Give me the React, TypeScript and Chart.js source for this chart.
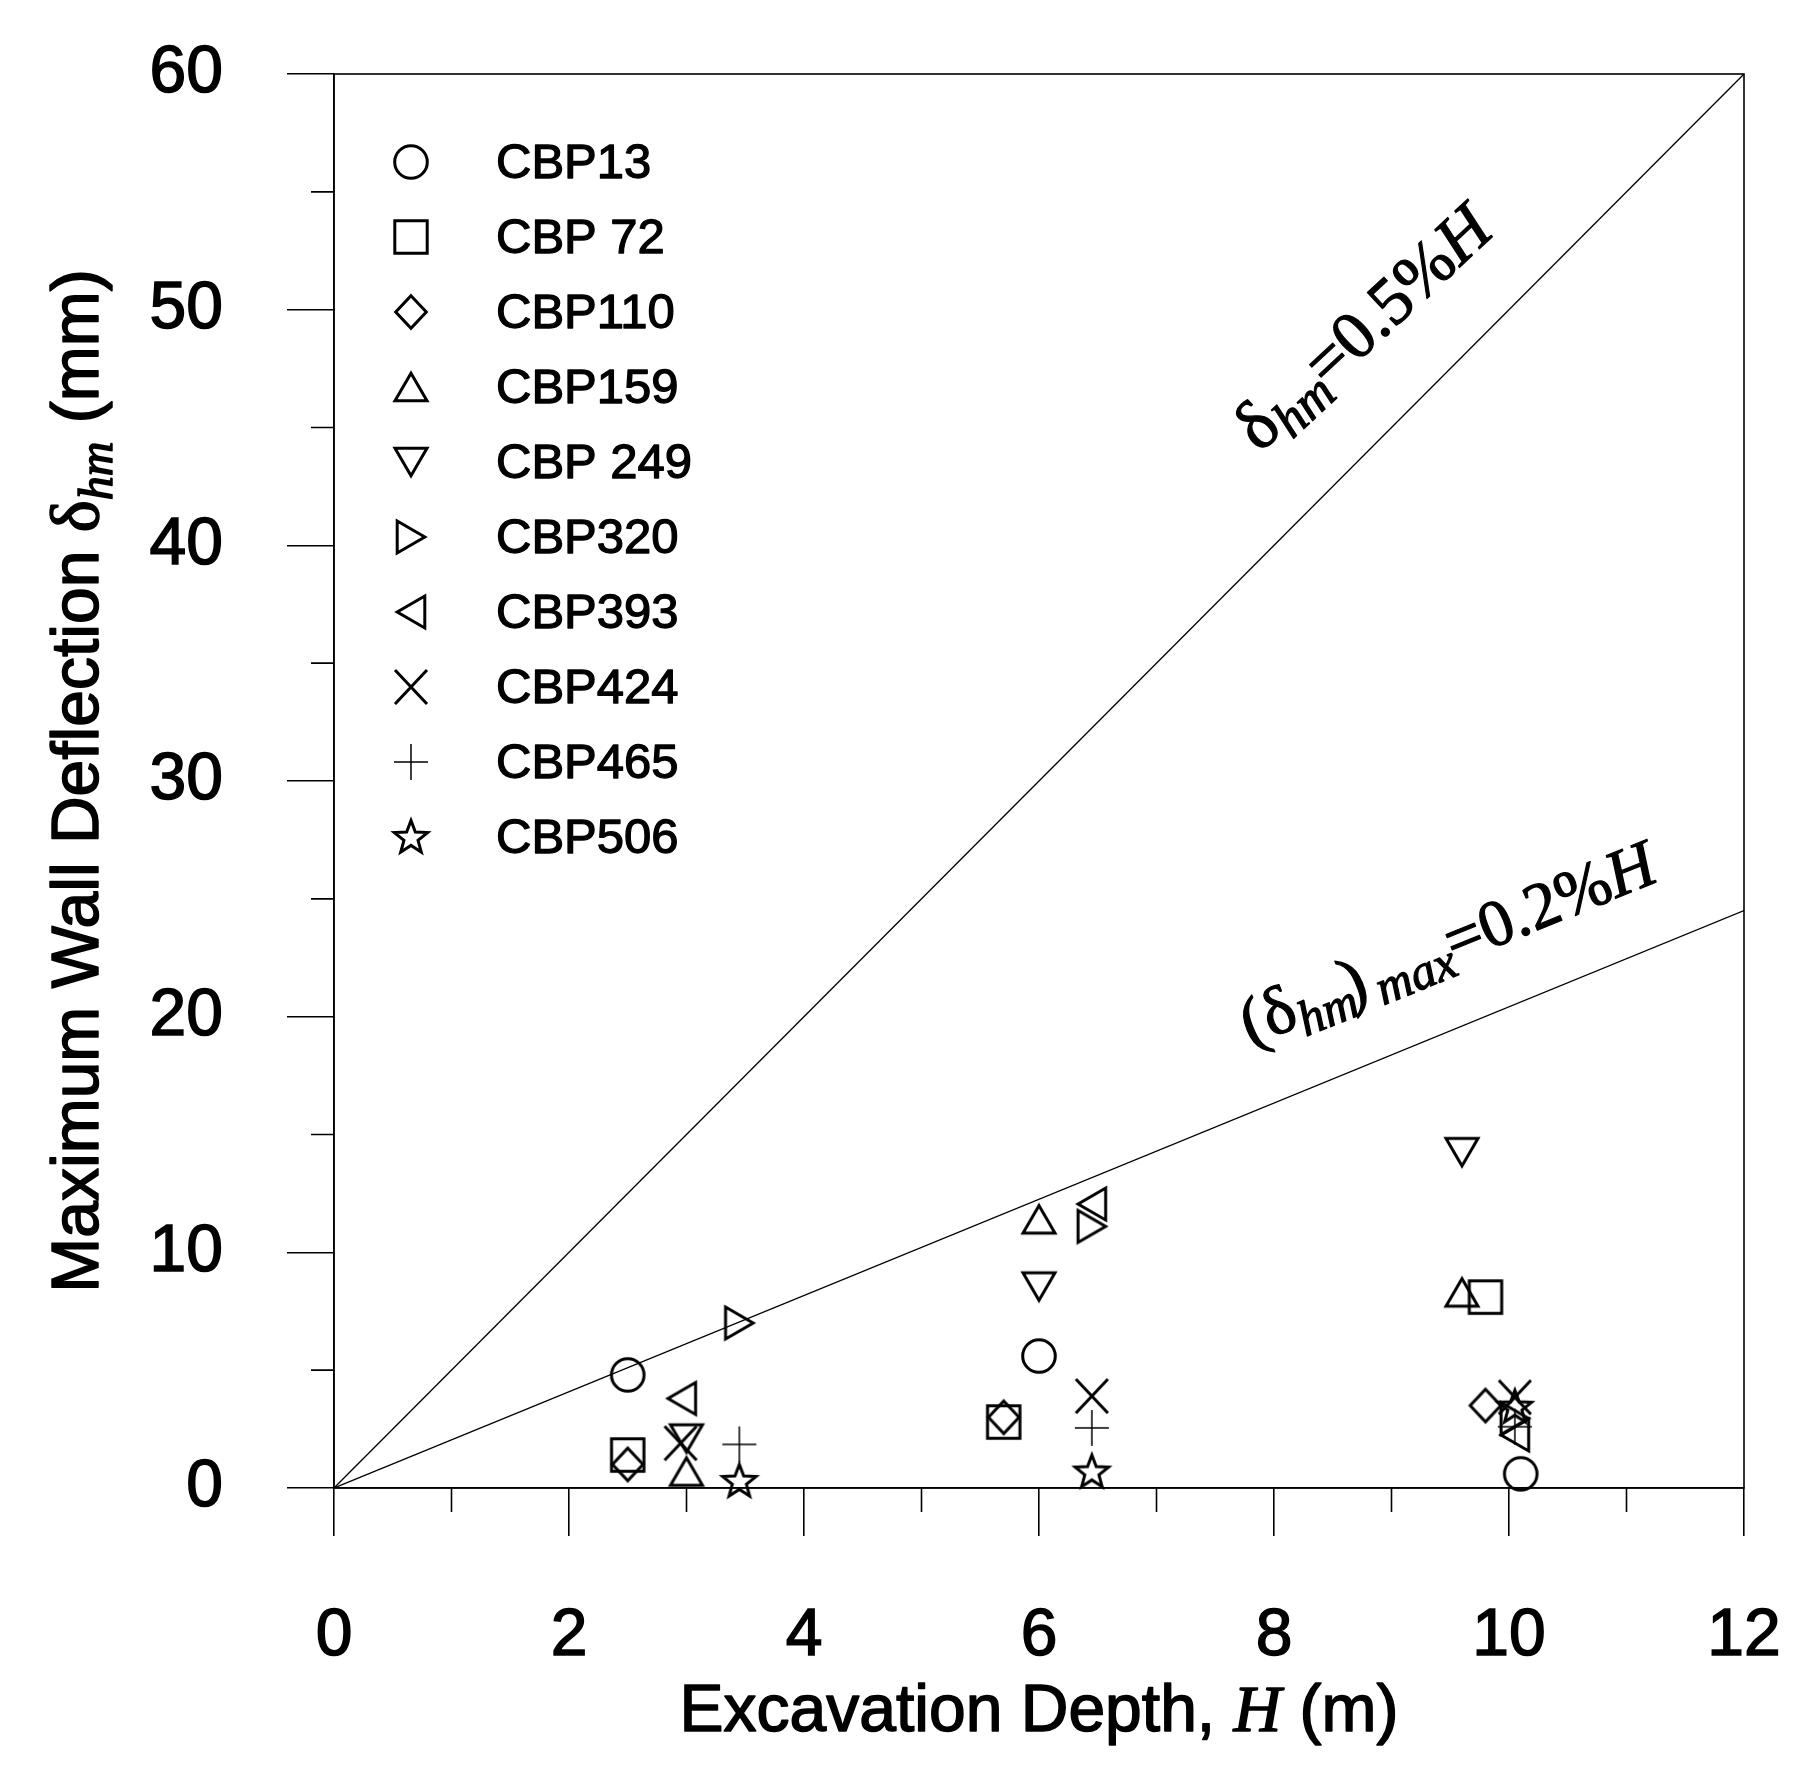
import { useEffect, useRef } from 'react';
import { Chart, registerables } from 'chart.js';

Chart.register(...registerables);

const SANS = '"Liberation Sans", Arial, sans-serif';
const SERIF = '"Liberation Serif", "Times New Roman", serif';

// legend names and marker kinds, same order
const SERIES = ['CBP13', 'CBP 72', 'CBP110', 'CBP159', 'CBP 249', 'CBP320', 'CBP393', 'CBP424', 'CBP465', 'CBP506'];
const MARKERS = ['circle', 'square', 'diamond', 'triUp', 'triDown', 'triRight', 'triLeft', 'cross', 'plus', 'star'];

// excavation depth H (m) / max wall deflection (mm), per pile
const CBP13_H = [2.5, 6.0, 10.1];
const CBP13_D = [4.8, 5.6, 0.6];
const CBP72_H = [2.5, 5.7, 9.8];
const CBP72_D = [1.4, 2.8, 8.1];
const CBP110_H = [2.5, 5.7, 9.8];
const CBP110_D = [1.0, 3.0, 3.5];
const CBP159_H = [3.0, 6.0, 9.6];
const CBP159_D = [0.7, 11.4, 8.3];
const CBP249_H = [3.0, 6.0, 9.6];
const CBP249_D = [2.1, 8.55, 14.25];
const CBP320_H = [3.45, 6.45, 10.05];
const CBP320_D = [7.0, 11.1, 2.95];
const CBP393_H = [2.96, 6.45, 10.05];
const CBP393_D = [3.8, 12.05, 2.25];
const CBP424_H = [2.95, 6.45, 10.05];
const CBP424_D = [1.9, 3.9, 3.85];
const CBP465_H = [3.45, 6.45, 10.05];
const CBP465_D = [1.85, 2.55, 2.6];
const CBP506_H = [3.45, 6.45, 10.05];
const CBP506_D = [0.3, 0.7, 3.45];

const ALL_H = [CBP13_H, CBP72_H, CBP110_H, CBP159_H, CBP249_H, CBP320_H, CBP393_H, CBP424_H, CBP465_H, CBP506_H];
const ALL_D = [CBP13_D, CBP72_D, CBP110_D, CBP159_D, CBP249_D, CBP320_D, CBP393_D, CBP424_D, CBP465_D, CBP506_D];

// reference lines
const LINE_H = [0, 12];
const LINE_05 = [0, 60];
const LINE_02 = [0, 24.5];

const X_MINOR = [1, 3, 5, 7, 9, 11];
const Y_MINOR = [5, 15, 25, 35, 45, 55];

function makeMarker(kind: string): HTMLCanvasElement {
  const c = document.createElement('canvas');
  c.width = 46;
  c.height = 46;
  const g = c.getContext('2d')!;
  g.translate(23, 23);
  g.strokeStyle = '#000';
  g.lineWidth = 3;
  g.lineJoin = 'miter';
  g.beginPath();
  const poly = (pts: number[][]) => {
    g.moveTo(pts[0][0], pts[0][1]);
    for (let i = 1; i < pts.length; i++) g.lineTo(pts[i][0], pts[i][1]);
    g.closePath();
  };
  switch (kind) {
    case 'circle':
      g.arc(0, 0, 16.3, 0, Math.PI * 2);
      break;
    case 'square':
      g.rect(-16.2, -16.2, 32.4, 32.4);
      break;
    case 'diamond':
      poly([[0, -16.2], [15.3, 0], [0, 16.2], [-15.3, 0]]);
      break;
    case 'triUp':
      poly([[0, -13.8], [16, 13.8], [-16, 13.8]]);
      break;
    case 'triDown':
      poly([[0, 13.8], [16, -13.8], [-16, -13.8]]);
      break;
    case 'triRight':
      poly([[-13.8, -16], [13.8, 0], [-13.8, 16]]);
      break;
    case 'triLeft':
      poly([[13.8, -16], [-13.8, 0], [13.8, 16]]);
      break;
    case 'cross':
      g.moveTo(-16, -17); g.lineTo(16, 17);
      g.moveTo(-16, 17); g.lineTo(16, -17);
      break;
    case 'plus':
      g.lineWidth = 1.5;
      g.moveTo(-17, 0); g.lineTo(17, 0);
      g.moveTo(0, -18); g.lineTo(0, 18);
      break;
    case 'star': {
      const pts: number[][] = [];
      for (let i = 0; i < 10; i++) {
        const r = i % 2 === 0 ? 17.5 : 7.4;
        const a = -Math.PI / 2 + (i * Math.PI) / 5;
        pts.push([r * Math.cos(a), r * Math.sin(a) + 1]);
      }
      poly(pts);
      break;
    }
  }
  g.stroke();
  return c;
}

type Run = { t: string; f: string; dy?: number; dx?: number };

// rich text along a rotated baseline, thickened a little like the source
function drawRuns(ctx: CanvasRenderingContext2D, runs: Run[], x: number, y: number, deg: number, center: boolean, heavy = 1.4) {
  ctx.save();
  ctx.translate(x, y);
  ctx.rotate((deg * Math.PI) / 180);
  ctx.textBaseline = 'alphabetic';
  ctx.textAlign = 'left';
  ctx.fillStyle = '#000';
  ctx.strokeStyle = '#000';
  ctx.lineWidth = heavy;
  ctx.lineJoin = 'round';
  let w = 0;
  for (const r of runs) {
    ctx.font = r.f;
    w += ctx.measureText(r.t).width + (r.dx || 0);
  }
  let cx = center ? -w / 2 : 0;
  for (const r of runs) {
    ctx.font = r.f;
    cx += r.dx || 0;
    ctx.fillText(r.t, cx, r.dy || 0);
    if (heavy > 0) ctx.strokeText(r.t, cx, r.dy || 0);
    cx += ctx.measureText(r.t).width;
  }
  ctx.restore();
}

const noPad = (s: any) => {
  s.paddingTop = 0;
  s.paddingBottom = 0;
  s.paddingLeft = 0;
  s.paddingRight = 0;
};

export default function App() {
  const canvasRef = useRef<HTMLCanvasElement>(null);
  const chartRef = useRef<Chart | null>(null);

  useEffect(() => {
    if (!canvasRef.current) return;
    chartRef.current?.destroy();
    const icons = MARKERS.map(makeMarker);

    const decor = {
      id: 'decor',
      beforeDatasetsDraw(chart: any) {
        const { ctx, chartArea: a, scales } = chart;
        const xs = scales.x;
        const ys = scales.y;
        ctx.save();
        ctx.strokeStyle = '#000';
        ctx.lineWidth = 1.6;
        ctx.strokeRect(a.left, a.top, a.right - a.left, a.bottom - a.top);
        ctx.beginPath();
        for (const v of X_MINOR) {
          const px = xs.getPixelForValue(v);
          ctx.moveTo(px, a.bottom);
          ctx.lineTo(px, a.bottom + 24);
        }
        for (const v of Y_MINOR) {
          const py = ys.getPixelForValue(v);
          ctx.moveTo(a.left, py);
          ctx.lineTo(a.left - 23, py);
        }
        ctx.stroke();
        ctx.restore();
      },
      afterDraw(chart: any) {
        const { ctx, scales, chartArea: a } = chart;
        const xs = scales.x;
        const ys = scales.y;
        // legend
        SERIES.forEach((name, i) => {
          const cy = 162 + i * 75;
          const ic = icons[i];
          ctx.drawImage(ic, 411 - ic.width / 2, cy - ic.height / 2);
          drawRuns(ctx, [{ t: name, f: `49px ${SANS}` }], 496, cy + 16, 0, false, 1.3);
        });

        // axis titles
        drawRuns(ctx, [
          { t: 'Excavation Depth, ', f: `66px ${SANS}` },
          { t: 'H', f: `italic 66px ${SERIF}` },
          { t: ' (m)', f: `66px ${SANS}` },
        ], (a.left + a.right) / 2, 1731, 0, true, 1.5);

        drawRuns(ctx, [
          { t: 'Maximum Wall Deflection ', f: `66px ${SANS}` },
          { t: 'δ', f: `68px ${SERIF}` },
          { t: 'hm', f: `italic 48px ${SERIF}`, dy: 14 },
          { t: ' (mm)', f: `66px ${SANS}` },
        ], 98, (a.top + a.bottom) / 2, -90, true, 1.5);

        // line annotations
        drawRuns(ctx, [
          { t: 'δ', f: `70px ${SERIF}` },
          { t: 'hm', f: `italic 52px ${SERIF}`, dy: 12 },
          { t: '=0.5%', f: `68px ${SERIF}`, dx: -3 },
          { t: 'H', f: `italic 68px ${SERIF}` },
        ], xs.getPixelForValue(7.88), ys.getPixelForValue(43.9), -43, false, 1.2);

        drawRuns(ctx, [
          { t: '(', f: `68px ${SERIF}` },
          { t: 'δ', f: `68px ${SERIF}` },
          { t: 'hm', f: `italic 50px ${SERIF}`, dy: 12 },
          { t: ')', f: `68px ${SERIF}`, dx: -8 },
          { t: 'max', f: `italic 50px ${SERIF}`, dy: 12, dx: 8 },
          { t: '=0.2%', f: `66px ${SERIF}`, dx: -2 },
          { t: 'H', f: `italic 66px ${SERIF}` },
        ], xs.getPixelForValue(7.8), ys.getPixelForValue(18.75), -22, false, 1.2);
      },
    };

    const pointSets = SERIES.map((name, i) => ({
      label: name,
      data: ALL_H[i].map((h, j) => ({ x: h, y: ALL_D[i][j] })),
      pointStyle: icons[i] as any,
      pointRadius: 17,
      pointHoverRadius: 17,
      showLine: false,
      clip: false as any,
    }));

    const lineSet = (ys: number[], label: string) => ({
      label,
      data: LINE_H.map((h, j) => ({ x: h, y: ys[j] })),
      showLine: true,
      borderColor: '#000',
      borderWidth: 1.3,
      pointRadius: 0,
      fill: false,
    });

    chartRef.current = new Chart(canvasRef.current, {
      type: 'scatter',
      data: {
        datasets: [lineSet(LINE_05, '0.5%H'), lineSet(LINE_02, '0.2%H'), ...pointSets] as any,
      },
      options: {
        animation: false,
        responsive: false,
        devicePixelRatio: 1,
        events: [],
        layout: { padding: { top: 74, right: 70, left: 0, bottom: 0 } },
        plugins: { legend: { display: false }, tooltip: { enabled: false } },
        scales: {
          x: {
            type: 'linear',
            min: 0,
            max: 12,
            afterFit: (s: any) => { s.height = 1784 - 1488; noPad(s); },
            ticks: {
              stepSize: 2, color: '#000', font: { family: SANS, size: 66 }, padding: 61, maxRotation: 0,
              textStrokeColor: '#000', textStrokeWidth: 1.5,
            },
            grid: { drawOnChartArea: false, tickLength: 48, color: '#000', lineWidth: 1.6 },
            border: { display: true, color: '#000', width: 1.6 },
          },
          y: {
            type: 'linear',
            min: 0,
            max: 60,
            afterFit: (s: any) => { s.width = 334; noPad(s); },
            ticks: {
              stepSize: 10, color: '#000', font: { family: SANS, size: 66 }, padding: 64,
              textStrokeColor: '#000', textStrokeWidth: 1.5,
            },
            grid: { drawOnChartArea: false, tickLength: 47, color: '#000', lineWidth: 1.6 },
            border: { display: true, color: '#000', width: 1.6 },
          },
        },
      },
      plugins: [decor],
    });
    return () => { chartRef.current?.destroy(); };
  }, []);

  return (
    <div style={{ position: 'absolute', left: 0, top: 0, width: 1814, height: 1784, background: '#fff' }}>
      <canvas ref={canvasRef} width={1814} height={1784} style={{ width: 1814, height: 1784 }} />
    </div>
  );
}
